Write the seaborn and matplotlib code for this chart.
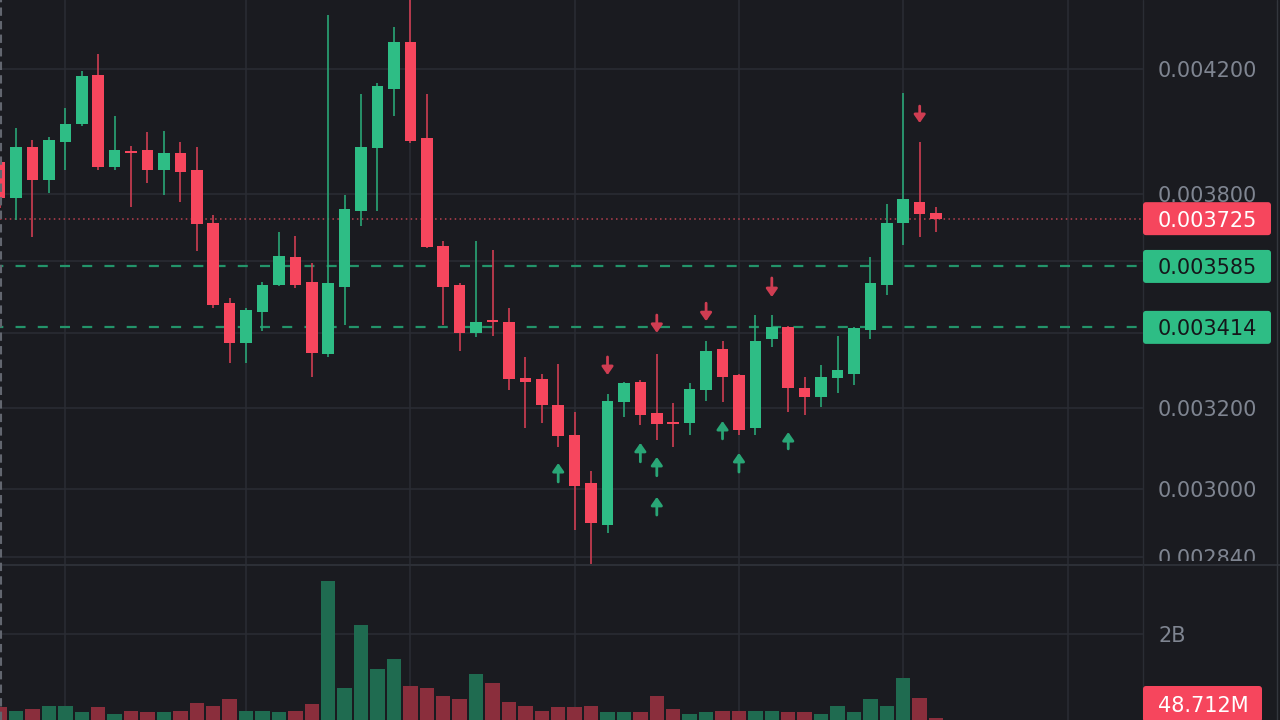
import numpy as np
import pandas as pd
import matplotlib
matplotlib.use("Agg")
import matplotlib.pyplot as plt
import seaborn as sns
from matplotlib.patches import FancyBboxPatch, Rectangle
from matplotlib.lines import Line2D
from matplotlib.transforms import IdentityTransform

# ---------------- data (prices in units of 1e-6) ----------------
opens = [3898, 3787, 3945, 3842, 3961, 4019, 4180, 3883, 3933, 3936,
         3873, 3926, 3873, 3712, 3481, 3372, 3456, 3532, 3612, 3541,
         3342, 3526, 3748, 3942, 4133, 4292, 3974, 3644, 3532, 3399,
         3434, 3429, 3279, 3276, 3208, 3132, 3014, 2914, 3216, 3268,
         3187, 3165, 3162, 3247, 3355, 3286, 3149, 3382, 3415, 3252,
         3229, 3278, 3289, 3407, 3532, 3712, 3775, 3742]
highs = [3915, 4006, 3968, 3977, 4071, 4193, 4251, 4045, 3948, 3993,
         3996, 3961, 3945, 3736, 3495, 3467, 3541, 3685, 3674, 3595,
         4386, 3796, 4116, 4153, 4344, 4457, 4116, 3659, 3538, 3659,
         3633, 3467, 3334, 3289, 3316, 3190, 3043, 3236, 3268, 3273,
         3342, 3213, 3265, 3377, 3377, 3290, 3448, 3448, 3418, 3281,
         3313, 3390, 3415, 3612, 3769, 4120, 3961, 3760]
lows = [3757, 3721, 3671, 3802, 3873, 4013, 3873, 3873, 3760, 3833,
        3796, 3775, 3630, 3467, 3318, 3318, 3404, 3530, 3523, 3281,
        3334, 3421, 3703, 3748, 4045, 3958, 3638, 3421, 3350, 3388,
        3390, 3247, 3149, 3162, 3102, 2902, 2824, 2895, 3177, 3157,
        3119, 3102, 3132, 3218, 3216, 3132, 3132, 3361, 3190, 3182,
        3203, 3239, 3260, 3382, 3504, 3647, 3671, 3685]
closes = [3787, 3945, 3842, 3968, 4019, 4176, 3883, 3936, 3926, 3873,
          3926, 3867, 3709, 3476, 3372, 3462, 3532, 3615, 3532, 3345,
          3538, 3754, 3945, 4143, 4292, 3964, 3641, 3526, 3399, 3429,
          3429, 3276, 3268, 3208, 3129, 3006, 2918, 3218, 3265, 3182,
          3160, 3160, 3249, 3350, 3281, 3144, 3377, 3415, 3252, 3229,
          3281, 3299, 3412, 3538, 3712, 3784, 3739, 3725]
volumes_m = [302, 209, 256, 326, 326, 186, 302, 140, 209, 186,
             186, 209, 395, 326, 488, 209, 209, 186, 209, 372,
             3233, 744, 2210, 1186, 1419, 791, 744, 558, 488, 1070,
             861, 419, 326, 209, 302, 302, 326, 186, 186, 186,
             558, 256, 140, 186, 209, 209, 209, 209, 186, 186,
             140, 326, 186, 488, 326, 977, 512, 48.712]

# signal arrows (candle index, tail price, tip price)
down_idx = [37, 40, 43, 47, 56]
down_tail = [3334, 3448, 3481, 3552, 4077]
down_tip = [3286, 3399, 3431, 3498, 4022]
up_idx = [34, 39, 40, 40, 44, 45, 48]
up_tail = [3016, 3065, 3031, 2937, 3122, 3040, 3097]
up_tip = [3062, 3112, 3077, 2980, 3167, 3087, 3139]

# horizontal levels
last_price = 3725
level_lines = [3585, 3414]
price_ticks = [4200, 3800, 3600, 3400, 3200, 3000, 2840]
price_tick_labels = ["0.004200", "0.003800", "", "", "0.003200", "0.003000", "0.002840"]
time_grid = [4, 15, 25, 35, 45, 55, 65]
vol_ticks = [2000]
vol_tick_labels = ["2B"]
last_volume_label = "48.712M"

S = 1e-6
o = np.array(opens) * S
h = np.array(highs) * S
l = np.array(lows) * S
c = np.array(closes) * S
idx = np.arange(len(o))
up = c >= o

# ---------------- style ----------------
BG = "#1a1b20"
GRID = "#2a2d34"
TXT = "#7f8591"
UP = "#2ebd85"
DN = "#f6465d"
UP_WICK = "#29a676"
DN_WICK = "#cf3d52"
UP_VOL = "#1f6b50"
DN_VOL = "#8a2e3c"

sns.set_theme(style="dark", rc={"axes.facecolor": BG, "figure.facecolor": BG,
                                "grid.color": GRID, "axes.edgecolor": BG})
plt.rcParams["font.family"] = ["DejaVu Sans"]

W, H = 1280, 720
PLOT_R = 1143
PANE = 565
fig = plt.figure(figsize=(12.8, 7.2), dpi=100, facecolor=BG)
ax = fig.add_axes([0, (H - PANE) / H, PLOT_R / W, PANE / H])
axv = fig.add_axes([0, 0, PLOT_R / W, (H - PANE) / H])
axv.set_zorder(6)

spacing = 16.43
xlim = (0.4 / spacing, (PLOT_R + 0.4) / spacing)

# ---------------- candles ----------------
ax.set_yscale("log")
ax.vlines(idx, l, h, colors=np.where(up, UP_WICK, DN_WICK), lw=1.2, zorder=3)
ax.bar(idx, np.abs(c - o), bottom=np.minimum(o, c), width=0.7,
       color=np.where(up, UP, DN), edgecolor="none", zorder=4)

astyle = "-|>,head_length=0.4,head_width=0.28"
for i, t0, t1 in zip(down_idx, down_tail, down_tip):
    ax.annotate("", xy=(i, t1 * S), xytext=(i, t0 * S),
                arrowprops=dict(arrowstyle=astyle, color=DN_WICK, lw=2.0,
                                shrinkA=0, shrinkB=0), zorder=5)
for i, t0, t1 in zip(up_idx, up_tail, up_tip):
    ax.annotate("", xy=(i, t1 * S), xytext=(i, t0 * S),
                arrowprops=dict(arrowstyle=astyle, color=UP_WICK, lw=2.0,
                                shrinkA=0, shrinkB=0), zorder=5)

for lv in level_lines:
    ax.axhline(lv * S, color="#23946a", lw=1.6, ls=(3, (4.5, 5.5)), zorder=2)
ax.axhline(last_price * S, color="#b8404f", lw=1.1, ls=(0, (1, 2.2)), zorder=2)

ylo = 4200e-6 * np.exp(-(PANE - 69) / 1247)
yhi = 4200e-6 * np.exp(69 / 1247)
ax.set_ylim(ylo, yhi)
ax.set_xlim(*xlim)
ax.yaxis.tick_right()
ax.set_yticks([p * S for p in price_ticks])
ax.set_yticklabels(price_tick_labels)
ax.yaxis.set_minor_locator(matplotlib.ticker.NullLocator())
ax.set_xticks(time_grid)
ax.set_xticklabels([])
ax.tick_params(axis="both", length=0)
ax.tick_params(axis="y", pad=10.8, labelsize=15, labelcolor=TXT)
ax.grid(True, color=GRID, lw=1.1)
for sp in ax.spines.values():
    sp.set_visible(False)

# ---------------- volume ----------------
vdf = pd.DataFrame({"idx": idx, "vol": np.array(volumes_m) * 1e6,
                    "dir": np.where(up, "up", "down")})
sns.barplot(data=vdf, x="idx", y="vol", hue="dir", palette={"up": UP_VOL, "down": DN_VOL},
            native_scale=True, width=0.88, dodge=False, legend=False, saturation=1,
            errorbar=None, edgecolor="none", ax=axv)
axv.set_xlim(*xlim)
axv.set_ylim(0, 2e9 * (H - PANE) / 86)
axv.yaxis.tick_right()
axv.set_yticks([v * 1e6 for v in vol_ticks])
axv.set_yticklabels(vol_tick_labels)
axv.set_xticks(time_grid)
axv.set_xticklabels([])
axv.set_xlabel("")
axv.set_ylabel("")
axv.tick_params(axis="both", length=0)
axv.tick_params(axis="y", pad=10.8, labelsize=15, labelcolor=TXT)
axv.grid(True, color=GRID, lw=1.1)
axv.set_axisbelow(True)
for sp in axv.spines.values():
    sp.set_visible(False)

# cover main-axis labels that fall below the pane separator
fig.add_artist(Rectangle((PLOT_R, 0), W - PLOT_R, H - PANE + 4, transform=IdentityTransform(),
                         fc=BG, ec="none", zorder=5))

# ---------------- separators ----------------
fig.add_artist(Line2D([0, W], [H - PANE, H - PANE], transform=IdentityTransform(),
                      color="#2c2f36", lw=1.5, zorder=11))
fig.add_artist(Line2D([PLOT_R, PLOT_R], [0, H], transform=IdentityTransform(),
                      color="#2a2d34", lw=1.0, zorder=11))
fig.add_artist(Line2D([W - 3, W - 3], [0, H], transform=IdentityTransform(),
                      color="#33363d", lw=1.0, zorder=11))
fig.add_artist(Line2D([1, 1], [0, H], transform=IdentityTransform(),
                      color="#62666f", lw=1.5, ls=(0, (4, 2.5)), zorder=11))

# ---------------- price tags ----------------
def tag(yc, text, fc, tc, x1=1271, hgt=33):
    fig.add_artist(FancyBboxPatch((PLOT_R, yc - hgt / 2), x1 - PLOT_R, hgt,
                                  boxstyle="round,pad=0,rounding_size=3",
                                  transform=IdentityTransform(), fc=fc, ec="none", zorder=12))
    fig.add_artist(plt.Text(1158, yc, text, transform=IdentityTransform(), ha="left",
                            va="center_baseline", fontsize=15, color=tc, zorder=13))

fig.canvas.draw()
ypix = lambda v: ax.transData.transform((1, v * S))[1]
tag(ypix(last_price), "0.003725", DN, "#ffffff")
tag(ypix(level_lines[0]), "0.003585", UP, "#15161a")
tag(ypix(level_lines[1]), "0.003414", UP, "#15161a")
yv = max(axv.transData.transform((1, volumes_m[-1] * 1e6))[1], 16)
tag(yv, last_volume_label, DN, "#ffffff", x1=1262, hgt=36)

fig.savefig("out.png", dpi=100, facecolor=BG)
